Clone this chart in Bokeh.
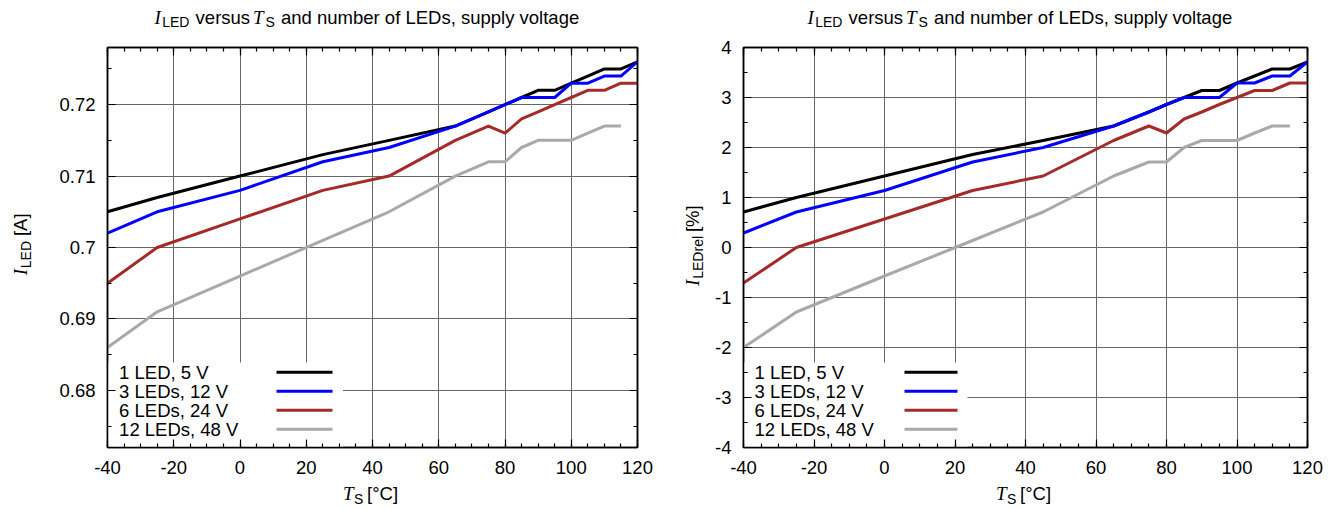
import math
import numpy as np
from bokeh.plotting import figure
from bokeh.layouts import row, column
from bokeh.models import (Range1d, FixedTicker, LinearAxis, Label, BoxAnnotation,
                          CustomJSTickFormatter)
from bokeh.embed import file_html
from bokeh.resources import INLINE

NAN = float("nan")

# ---------------- data ----------------
T_S = [-40, -25, 0, 25, 45, 65, 75, 80, 85, 90, 95, 100, 105, 110, 115, 120]

I_1LED_5V = [0.705, 0.707, 0.710, 0.713, 0.715, 0.717, 0.719, 0.720, 0.721, 0.722, 0.722, 0.723, 0.724, 0.725, 0.725, 0.726]
I_3LED_12V = [0.702, 0.705, 0.708, 0.712, 0.714, 0.717, 0.719, 0.720, 0.721, 0.721, 0.721, 0.723, 0.723, 0.724, 0.724, 0.726]
I_6LED_24V = [0.695, 0.700, 0.704, 0.708, 0.710, 0.715, 0.717, 0.716, 0.718, 0.719, 0.720, 0.721, 0.722, 0.722, 0.723, 0.723]
I_12LED_48V = [0.686, 0.691, 0.696, 0.701, 0.705, 0.710, 0.712, 0.712, 0.714, 0.715, 0.715, 0.715, 0.716, 0.717, 0.717, NAN]

REL_1LED_5V = [0.71, 1.00, 1.43, 1.86, 2.14, 2.43, 2.71, 2.86, 3.00, 3.14, 3.14, 3.29, 3.43, 3.57, 3.57, 3.71]
REL_3LED_12V = [0.29, 0.71, 1.14, 1.71, 2.00, 2.43, 2.71, 2.86, 3.00, 3.00, 3.00, 3.29, 3.29, 3.43, 3.43, 3.71]
REL_6LED_24V = [-0.71, 0.00, 0.57, 1.14, 1.43, 2.14, 2.43, 2.29, 2.57, 2.71, 2.86, 3.00, 3.14, 3.14, 3.29, 3.29]
REL_12LED_48V = [-2.00, -1.29, -0.57, 0.14, 0.71, 1.43, 1.71, 1.71, 2.00, 2.14, 2.14, 2.14, 2.29, 2.43, 2.43, NAN]

SERIES_LABELS = ["1 LED, 5 V", "3 LEDs, 12 V", "6 LEDs, 24 V", "12 LEDs, 48 V"]
SERIES_COLORS = ["#000000", "#0000ff", "#a52a2a", "#a9a9a9"]

X_TICKS = [-40, -20, 0, 20, 40, 60, 80, 100, 120]
X_TICK_LABELS = ["-40", "-20", "0", "20", "40", "60", "80", "100", "120"]
X_MINOR = [-40 + 5 * k for k in range(33)]

YA_TICKS = [0.68, 0.69, 0.70, 0.71, 0.72]
YA_TICK_LABELS = ["0.68", "0.69", "0.7", "0.71", "0.72"]
YA_MINOR = [0.675, 0.68, 0.685, 0.69, 0.695, 0.70, 0.705, 0.71, 0.715, 0.72, 0.725]

YR_TICKS = [-4, -3, -2, -1, 0, 1, 2, 3, 4]
YR_TICK_LABELS = ["-4", "-3", "-2", "-1", "0", "1", "2", "3", "4"]
YR_MINOR = [-4 + 0.5 * k for k in range(17)]

# rich texts: (text, style) ; "it" = italic serif symbol, "sub" = subscript, "n" = normal
TITLE_PARTS = [("I", "it"), ("LED", "sub"), ("versus", "n"), ("T", "it"), ("S", "sub"),
               ("and number of LEDs, supply voltage", "n")]
XLABEL_PARTS = [("T", "it"), ("S", "sub"), ("[°C]", "n")]
YLABEL_A_PARTS = [("I", "it"), ("LED", "sub"), ("[A]", "n")]
YLABEL_R_PARTS = [("I", "it"), ("LEDrel", "sub"), ("[%]", "n")]

# ---------------- layout / styling (pixels) ----------------
SANS = "Liberation Sans"
SERIF = "Liberation Serif"
FS = 18.5
FS_IT = 19
FS_SUB = 14
SUB_DY = 5.2
BASE_FIX = 6.0          # renderer draws "alphabetic" text this much lower than asked

TITLE_DX = [-218.0, -210.3, -176.9, -119.5, -107.0, -91.5]     # from frame centre
XLABEL_DX = [-29.5, -18.4, -5.5]
YLABEL_A_DX = [0.0, 8.1, 44.5]
YLABEL_R_DX = [0.0, 8.1, 61.0]

H_TITLE = 31
H_XLAB = 24
FRAME_TOP = 47
FRAME_H = 400
MB_TOP = FRAME_TOP - H_TITLE
MB_BOT = 37
PLOT_H = MB_TOP + FRAME_H + MB_BOT


def seg_font(kind):
    if kind == "it":
        return SERIF, "italic", FS_IT, 0.0
    if kind == "sub":
        return SANS, "normal", FS_SUB, SUB_DY
    return SANS, "normal", FS, 0.0


def text_label(x, y, text, kind, angle=0.0):
    fam, style, size, _ = seg_font(kind)
    return Label(x=x, y=y, x_units="data", y_units="data", text=text, text_font=fam,
                 text_font_style=style, text_font_size=f"{size}px", text_color="black",
                 text_align="left", text_baseline="alphabetic", angle=angle)


def strip(w, h, ox, oy):
    f = figure(width=w, height=h, x_range=Range1d(0, w), y_range=Range1d(0, h),
               output_backend="svg", toolbar_location=None, title=None,
               x_axis_location=None, y_axis_location=None,
               min_border_left=0, min_border_right=0, min_border_top=0, min_border_bottom=0,
               background_fill_color="white", border_fill_color="white")
    f.outline_line_color = None
    f.grid.visible = False
    f._geo = (ox, oy, h)
    return f


def rich_h(f, parts, dxs, cx, base_y):
    ox, oy, h = f._geo
    for (s, k), dx in zip(parts, dxs):
        dy = seg_font(k)[3] - BASE_FIX
        f.add_layout(text_label(cx + dx - ox, h - (base_y + dy - oy), s, k))


def rich_v(f, parts, dxs, base_x, start_y):
    ox, oy, h = f._geo
    for (s, k), d in zip(parts, dxs):
        dy = seg_font(k)[3] - BASE_FIX
        f.add_layout(text_label(base_x + dy - ox, h - (start_y - d - oy), s, k,
                                angle=math.pi / 2))


def style_axis(ax, ticker, labels=None, standoff=8):
    ax.ticker = ticker
    ax.major_tick_in = 8
    ax.major_tick_out = 0
    ax.minor_tick_in = 4
    ax.minor_tick_out = 0
    ax.major_tick_line_color = "black"
    ax.minor_tick_line_color = "black"
    ax.major_tick_line_width = 1.2
    ax.minor_tick_line_width = 1.2
    ax.axis_line_color = "black"
    ax.axis_line_width = 1.5
    if labels is None:
        ax.formatter = CustomJSTickFormatter(code="return ''")
        ax.major_label_standoff = 0
        ax.major_label_text_font_size = "0px"
    else:
        ax.major_label_overrides = labels
        ax.major_label_text_font = SANS
        ax.major_label_text_font_size = f"{FS}px"
        ax.major_label_text_color = "black"
        ax.major_label_standoff = standoff


def make_panel(ox, block_w, ylab_w, mbl, mbr, yrange, yticks, yticklabels, yminor,
               series, ylabel_parts, ylabel_dxs, ylabel_base_x, ylabel_start_y,
               legend_text_x, legend_line_x0, legend_line_x1, legend_box_right):
    plot_w = block_w - ylab_w
    p = figure(width=plot_w, height=PLOT_H, x_range=Range1d(-40, 120),
               y_range=Range1d(*yrange), output_backend="svg", toolbar_location=None,
               title=None, min_border_left=mbl, min_border_right=mbr,
               min_border_top=MB_TOP, min_border_bottom=MB_BOT,
               background_fill_color="white", border_fill_color="white")
    p.outline_line_color = "black"
    p.outline_line_width = 1.5

    xt = FixedTicker(ticks=X_TICKS, minor_ticks=X_MINOR)
    yt = FixedTicker(ticks=yticks, minor_ticks=yminor)
    style_axis(p.xaxis[0], xt, dict(zip(X_TICKS, X_TICK_LABELS)), standoff=13)
    style_axis(p.yaxis[0], yt, dict(zip(yticks, yticklabels)), standoff=12)
    top = LinearAxis()
    style_axis(top, xt)
    p.add_layout(top, "above")
    right = LinearAxis()
    style_axis(right, yt)
    p.add_layout(right, "right")

    for g, t in ((p.xgrid[0], xt), (p.ygrid[0], yt)):
        g.ticker = t
        g.grid_line_color = "#666666"
        g.grid_line_width = 1

    fl = ox + ylab_w + mbl
    ft = FRAME_TOP
    fw = plot_w - mbl - mbr
    xs0, xs1 = -40.0, 120.0
    ys0, ys1 = yrange

    def px2x(ax):
        return xs0 + (ax - fl) / fw * (xs1 - xs0)

    def px2y(ay):
        return ys1 - (ay - ft) / FRAME_H * (ys1 - ys0)

    xs = np.array(T_S, dtype=float)
    for vals, col in zip(series, SERIES_COLORS):
        p.line(xs, np.array(vals, dtype=float), line_color=col, line_width=3,
               line_join="round")

    # legend: text left, sample line right, on a white box that hides the grid
    p.add_layout(BoxAnnotation(left=px2x(fl), right=px2x(legend_box_right),
                               bottom=px2y(ft + FRAME_H), top=px2y(362),
                               fill_color="white", fill_alpha=1.0, line_color=None,
                               level="glyph"))
    for i, (lab, col) in enumerate(zip(SERIES_LABELS, SERIES_COLORS)):
        yrow = 371.7 + 19 * i
        p.add_layout(text_label(px2x(legend_text_x), px2y(yrow + 6.5 - BASE_FIX), lab, "n"))
        r = p.segment(x0=[px2x(legend_line_x0)], y0=[px2y(yrow)],
                      x1=[px2x(legend_line_x1)], y1=[px2y(yrow)],
                      line_color=col, line_width=3)
        r.level = "annotation"

    cx = fl + fw / 2
    title = strip(block_w, H_TITLE, ox, 0)
    rich_h(title, TITLE_PARTS, TITLE_DX, cx, 22.5)
    xlab = strip(block_w, H_XLAB, ox, H_TITLE + PLOT_H)
    rich_h(xlab, XLABEL_PARTS, XLABEL_DX, cx, 499)
    ylab = strip(ylab_w, PLOT_H, ox, H_TITLE)
    rich_v(ylab, ylabel_parts, ylabel_dxs, ylabel_base_x, ylabel_start_y)
    return column(title, row(ylab, p), xlab)


left = make_panel(0, 668, 48, 59, 31, (0.672, 0.728), YA_TICKS, YA_TICK_LABELS, YA_MINOR,
                  [I_1LED_5V, I_3LED_12V, I_6LED_24V, I_12LED_48V],
                  YLABEL_A_PARTS, YLABEL_A_DX, 26, 289.0,
                  118.6, 276, 332, 342.5)
right = make_panel(668, 672, 44, 31, 33, (-4, 4), YR_TICKS, YR_TICK_LABELS, YR_MINOR,
                   [REL_1LED_5V, REL_3LED_12V, REL_6LED_24V, REL_12LED_48V],
                   YLABEL_R_PARTS, YLABEL_R_DX, 698, 301.0,
                   754, 904, 957, 967)

layout = row(left, right)
open("out.html", "w").write(file_html(layout, INLINE))
